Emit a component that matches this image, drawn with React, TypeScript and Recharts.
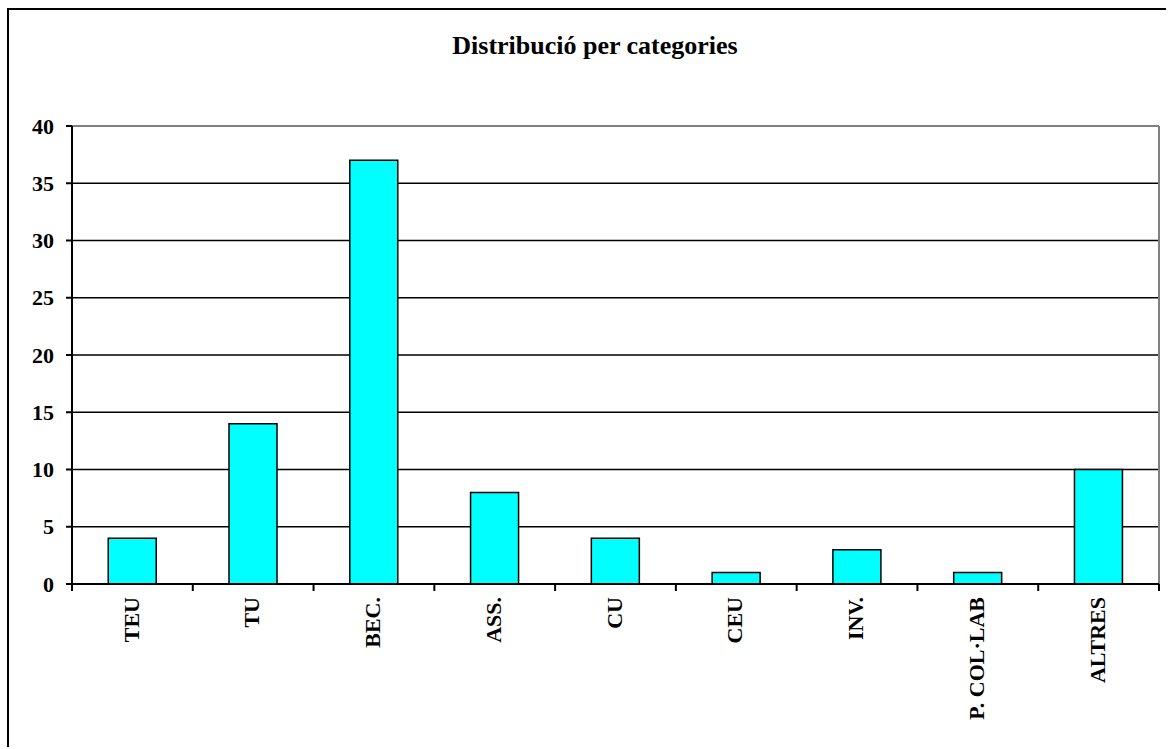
import React from 'react';
import { BarChart, Bar, XAxis, YAxis, CartesianGrid, ReferenceLine } from 'recharts';

const categories = ['TEU', 'TU', 'BEC.', 'ASS.', 'CU', 'CEU', 'INV.', 'P. COL·LAB', 'ALTRES'];
const values = [4, 14, 37, 8, 4, 1, 3, 1, 10];
const yTicks = [0, 5, 10, 15, 20, 25, 30, 35, 40];
const title = 'Distribució per categories';

const data = categories.map((c, i) => ({ name: c, value: values[i] }));

const FONT = '"Liberation Serif", "Times New Roman", serif';
const LABEL_GAP = 13;
const TICK_LEN = 7;

const RotTick = (props: any) => {
  const { x, y, payload, index, visibleTicksCount } = props;
  const half = payload && typeof payload.offset === 'number' ? payload.offset : 0;
  const axisY = y - LABEL_GAP;
  const isLast = index === (visibleTicksCount ?? categories.length) - 1;
  return (
    <g>
      <line x1={x - half} x2={x - half} y1={axisY} y2={axisY + TICK_LEN} stroke="#000" strokeWidth={2} />
      {isLast && (
        <line x1={x + half} x2={x + half} y1={axisY} y2={axisY + TICK_LEN} stroke="#000" strokeWidth={2} />
      )}
      <text
        x={x}
        y={y}
        transform={`rotate(-90, ${x}, ${y})`}
        textAnchor="end"
        dy="0.28em"
        style={{ fontFamily: FONT, fontWeight: 'bold', fontSize: 22 }}
        fill="#000"
      >
        {payload.value}
      </text>
    </g>
  );
};

const YTick = (props: any) => {
  const { x, y, payload } = props;
  return (
    <text
      x={x}
      y={y}
      textAnchor="end"
      dy="0.35em"
      style={{ fontFamily: FONT, fontWeight: 'bold', fontSize: 22 }}
      fill="#000"
    >
      {payload.value}
    </text>
  );
};

const rightEdge = ({ offset }: any) => [offset.left + offset.width];

export default function App() {
  return (
    <div
      style={{
        position: 'absolute',
        left: 7,
        top: 8,
        borderTop: '2px solid #000',
        borderLeft: '2px solid #000',
        width: 1157,
        height: 737,
        background: '#fff',
      }}
    >
      <div
        style={{
          position: 'absolute',
          left: 586,
          top: 23,
          transform: 'translateX(-50%)',
          fontFamily: FONT,
          fontWeight: 'bold',
          fontSize: 26,
          lineHeight: '26px',
          whiteSpace: 'nowrap',
          color: '#000',
        }}
      >
        {title}
      </div>
      <BarChart
        width={1157}
        height={737}
        data={data}
        margin={{ top: 116, right: 7, bottom: 162, left: 9 }}
        barCategoryGap="30%"
      >
        <CartesianGrid vertical={false} stroke="#000" strokeWidth={1.5} />
        <CartesianGrid
          horizontal={false}
          verticalCoordinatesGenerator={rightEdge}
          stroke="#808080"
          strokeWidth={2}
        />
        <XAxis
          dataKey="name"
          type="category"
          height={1}
          interval={0}
          tickLine={false}
          tickSize={0}
          tickMargin={LABEL_GAP}
          axisLine={{ stroke: '#000', strokeWidth: 2 }}
          tick={<RotTick />}
        />
        <YAxis
          domain={[0, 40]}
          ticks={yTicks}
          width={54}
          tickSize={6}
          tickMargin={12}
          axisLine={{ stroke: '#000', strokeWidth: 2 }}
          tickLine={{ stroke: '#000', strokeWidth: 2 }}
          tick={<YTick />}
        />
        <ReferenceLine y={40} stroke="#808080" strokeWidth={2} />
        <Bar
          dataKey="value"
          fill="#00FFFF"
          stroke="#000"
          strokeWidth={1.5}
          isAnimationActive={false}
        />
      </BarChart>
    </div>
  );
}
